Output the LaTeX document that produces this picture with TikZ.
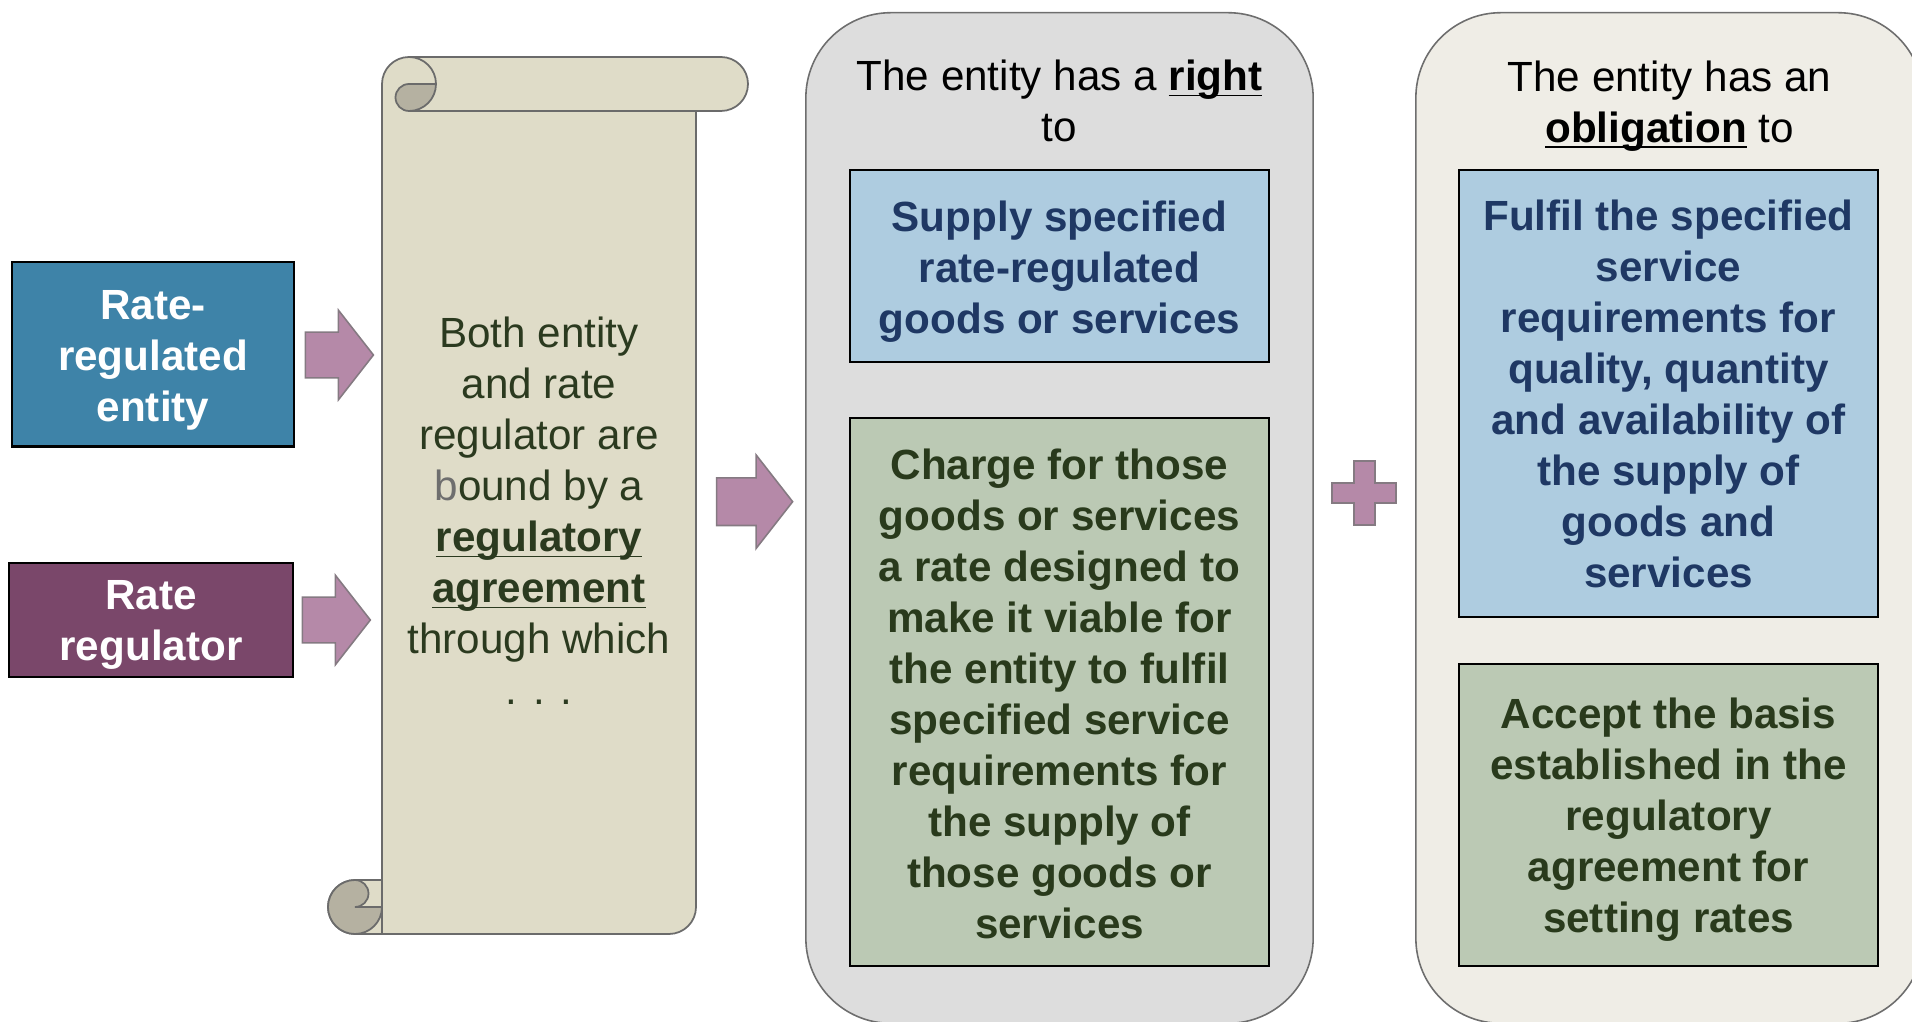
\documentclass[tikz,border=0pt]{standalone}
\usepackage{fontspec}
\setmainfont{Liberation Sans}
\usetikzlibrary{shapes.arrows}

\definecolor{entityblue}{HTML}{3E83A8}
\definecolor{regulatorpurple}{HTML}{7A476A}
\definecolor{arrowpink}{HTML}{B589A8}
\definecolor{arrowline}{HTML}{857A82}
\definecolor{scrollfill}{HTML}{DFDCC8}
\definecolor{scrolldark}{HTML}{B5B1A1}
\definecolor{scrollline}{HTML}{6B6B6B}
\definecolor{scrolltext}{HTML}{2B3A1F}
\definecolor{boundgray}{HTML}{6E6E6E}
\definecolor{rightgray}{HTML}{DDDDDD}
\definecolor{obligbeige}{HTML}{EFEDE6}
\definecolor{panelline}{HTML}{6E6E6E}
\definecolor{termblue}{HTML}{AECCE0}
\definecolor{termgreen}{HTML}{BBC9B4}
\definecolor{termnavy}{HTML}{1F3864}
\definecolor{termdark}{HTML}{293A1C}

\newcommand{\keyterm}[1]{\underline{\smash{\textbf{#1}}}}

\tikzstyle{party} = [rectangle, draw=black, line width=0.6pt, text=white, align=center, inner sep=0pt, font=\fontsize{12pt}{14.5pt}\selectfont\bfseries]
\tikzstyle{panel} = [rectangle, rounded corners=0.85cm, draw=panelline, line width=0.45pt, inner sep=0pt, minimum width=5.07cm, minimum height=10.1cm]
\tikzstyle{heading} = [align=center, text=black, inner sep=0pt, font=\fontsize{12pt}{14.5pt}\selectfont]
\tikzstyle{termbox} = [rectangle, draw=black, line width=0.6pt, align=center, inner sep=0pt, minimum width=4.19cm, font=\fontsize{12pt}{14.5pt}\selectfont\bfseries]
\tikzstyle{supply} = [termbox, fill=termblue, text=termnavy]
\tikzstyle{charge} = [termbox, fill=termgreen, text=termdark]
\tikzstyle{scroll_text} = [align=center, text=scrolltext, inner sep=0pt, font=\fontsize{12pt}{14.5pt}\selectfont]
\tikzstyle{scroll_line} = [draw=scrollline, line width=0.5pt]
\tikzstyle{block_arrow} = [single arrow, anchor=tail, draw=arrowline, fill=arrowpink, line width=0.45pt, inner xsep=0pt, inner ysep=0.22cm, single arrow head extend=0.22cm, single arrow tip angle=104, minimum height=0.68cm]

\begin{document}
\begin{tikzpicture}[x=0.01cm, y=-0.01cm]

    \useasboundingbox (0,0) rectangle (1912,1022);

    % scroll
    \filldraw [scroll_line, fill=scrollfill] (382,84) arc (180:270:27) -- (721,57) arc (270:450:27) -- (696,111) -- (696,907) arc (0:90:27) -- (355,934) arc (90:270:27) -- (382,880) -- cycle;
    \draw [scroll_line] (409,57) arc (270:360:27);
    \draw [scroll_line] (409,111) -- (696,111);
    \filldraw [scroll_line, fill=scrolldark] (409,84) -- (436,84) arc (0:90:27) arc (90:270:13.5) -- cycle;
    \filldraw [scroll_line, fill=scrolldark] (355,880) arc (270:0:27) -- (355,907) arc (90:-90:13.5) -- cycle;
    \draw [scroll_line] (382,880) -- (382,934);

    \node (agreement) [scroll_text] at (539,511) {Both entity\\and rate\\regulator are\\\textcolor{boundgray}{b}ound by a\\\keyterm{regulatory}\\\keyterm{agreement}\\through which\\. . .};

    % parties
    \node (entity) [party, fill=entityblue, minimum width=2.82cm, minimum height=1.84cm] at (153,354.5) {};
    \node (entitytext) [party, draw=none] at (153,360.5) {Rate-\\regulated\\entity};
    \node (regulator) [party, fill=regulatorpurple, minimum width=2.84cm, minimum height=1.14cm] at (151,619.6) {};
    \node (regulatortext) [party, draw=none] at (151,625) {Rate\\regulator};

    \node (arrowentity) [block_arrow] at (304.6,355) {};
    \node (arrowregulator) [block_arrow] at (301.5,620) {};
    \node (arrowscroll) [block_arrow, minimum height=0.76cm, inner ysep=0.23cm, single arrow head extend=0.23cm] at (715.8,501.7) {};

    % right and obligation
    \node (rightpanel) [panel, fill=rightgray] at (1059.5,518) {};
    \node (obligpanel) [panel, fill=obligbeige] at (1669.5,518) {};

    \node (righthead) [heading] at (1059.5,101) {The entity has a \keyterm{right}\\to};
    \node (obligmhead) [heading] at (1669.5,105) {The entity has an\\\keyterm{obligation} to};

    \node (supply) [supply, minimum height=1.92cm] at (1059.5,266) {};
    \node (supplytext) [supply, draw=none, fill=none, minimum height=0pt] at (1059.5,271.5) {Supply specified\\rate-regulated\\goods or services};
    \node (charge) [charge, minimum height=5.48cm] at (1059.5,692) {};
    \node (chargetext) [charge, draw=none, fill=none, minimum height=0pt] at (1059.5,694) {Charge for those\\goods or services\\a rate designed to\\make it viable for\\the entity to fulfil\\specified service\\requirements for\\the supply of\\those goods or\\services};

    \node (fulfil) [supply, minimum height=4.47cm] at (1668.5,393.5) {Fulfil the specified\\service\\requirements for\\quality, quantity\\and availability of\\the supply of\\goods and\\services};
    \node (accept) [charge, minimum height=3.02cm] at (1668.5,815) {};
    \node (accepttext) [charge, draw=none, fill=none, minimum height=0pt] at (1668.5,820) {Accept the basis\\established in the\\regulatory\\agreement for\\setting rates};

    \filldraw [draw=arrowline, fill=arrowpink, line width=0.45pt] (1354,461) -- (1375,461) -- (1375,483) -- (1396,483) -- (1396,503) -- (1375,503) -- (1375,525) -- (1354,525) -- (1354,503) -- (1332,503) -- (1332,483) -- (1354,483) -- cycle;

\end{tikzpicture}
\end{document}
